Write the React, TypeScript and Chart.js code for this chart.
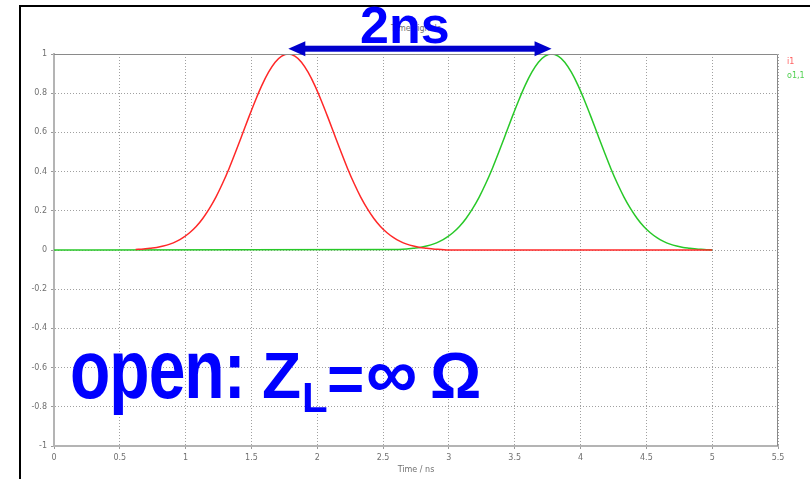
import React, { useEffect, useRef } from "react";
import { Chart, registerables } from "chart.js";

Chart.register(...registerables);

// ---- data ----
const redX = [0.62, 0.68, 0.73, 0.78, 0.83, 0.88, 0.93, 0.98, 1.03, 1.08, 1.13, 1.18, 1.23, 1.28, 1.33, 1.38, 1.43, 1.48, 1.53, 1.58, 1.63, 1.68, 1.73, 1.78,
  1.83, 1.88, 1.93, 1.98, 2.03, 2.08, 2.13, 2.18, 2.23, 2.28, 2.33, 2.38, 2.43, 2.48, 2.53, 2.58, 2.63, 2.68, 2.73, 2.78, 2.83, 2.88, 2.94, 3.0, 5.0];
const redY = [0.003, 0.005, 0.009, 0.013, 0.02, 0.03, 0.044, 0.063, 0.088, 0.12, 0.161, 0.211, 0.27, 0.339, 0.416, 0.501, 0.589, 0.678, 0.763, 0.841, 0.907, 0.958, 0.989, 1.0,
  0.989, 0.958, 0.907, 0.841, 0.763, 0.678, 0.589, 0.501, 0.416, 0.339, 0.27, 0.211, 0.161, 0.12, 0.088, 0.063, 0.044, 0.03, 0.02, 0.013, 0.009, 0.005, 0.003, 0, 0];

const greenX = [0, 2.62, 2.68, 2.73, 2.78, 2.83, 2.88, 2.93, 2.98, 3.03, 3.08, 3.13, 3.18, 3.23, 3.28, 3.33, 3.38, 3.43, 3.48, 3.53, 3.58, 3.63, 3.68, 3.73, 3.78,
  3.83, 3.88, 3.93, 3.98, 4.03, 4.08, 4.13, 4.18, 4.23, 4.28, 4.33, 4.38, 4.43, 4.48, 4.53, 4.58, 4.63, 4.68, 4.73, 4.78, 4.83, 4.88, 4.94, 5.0];
const greenY = [0, 0.003, 0.005, 0.009, 0.013, 0.02, 0.03, 0.044, 0.063, 0.088, 0.12, 0.161, 0.211, 0.27, 0.339, 0.416, 0.501, 0.589, 0.678, 0.763, 0.841, 0.907, 0.958, 0.989, 1.0,
  0.989, 0.958, 0.907, 0.841, 0.763, 0.678, 0.589, 0.501, 0.416, 0.339, 0.27, 0.211, 0.161, 0.12, 0.088, 0.063, 0.044, 0.03, 0.02, 0.013, 0.009, 0.005, 0.003, 0];

const seriesNames = ["i1", "o1,1"];
const xTicksMin = 0, xTicksMax = 5.5, xStep = 0.5;
const yTicksMin = -1, yTicksMax = 1, yStep = 0.2;
const arrowFrom = 1.78, arrowTo = 3.78, arrowLevel = 1.027;

const FONT = "'Liberation Sans', Arial, sans-serif";
const SMALL = "'DejaVu Sans', Verdana, sans-serif";

const fmt = (v: any) => String(Math.round(Number(v) * 100) / 100);

const overlayPlugin = {
  id: "overlay",
  afterDraw(chart: any) {
    const { ctx, chartArea, scales } = chart;
    ctx.save();
    ctx.strokeStyle = "#8a8a8a";
    ctx.lineWidth = 1;
    ctx.beginPath();
    ctx.moveTo(chartArea.left, chartArea.top + 0.5);
    ctx.lineTo(chartArea.right - 0.5, chartArea.top + 0.5);
    ctx.lineTo(chartArea.right - 0.5, chartArea.bottom);
    ctx.stroke();
    const x1 = scales.x.getPixelForValue(arrowFrom);
    const x2 = scales.x.getPixelForValue(arrowTo);
    const y = scales.y.getPixelForValue(arrowLevel);
    const head = 17, hh = 7.5, shaft = 3;
    ctx.fillStyle = "#0000cc";
    ctx.fillRect(x1 + head - 1, y - shaft, x2 - x1 - 2 * head + 2, shaft * 2);
    ctx.beginPath();
    ctx.moveTo(x1, y);
    ctx.lineTo(x1 + head, y - hh);
    ctx.lineTo(x1 + head, y + hh);
    ctx.closePath();
    ctx.fill();
    ctx.beginPath();
    ctx.moveTo(x2, y);
    ctx.lineTo(x2 - head, y - hh);
    ctx.lineTo(x2 - head, y + hh);
    ctx.closePath();
    ctx.fill();
    ctx.restore();
  },
};

function ChartView() {
  const ref = useRef<HTMLCanvasElement>(null);
  useEffect(() => {
    if (!ref.current) return;
    const mk = (xs: number[], ys: number[]) => xs.map((x, i) => ({ x, y: ys[i] }));
    const axisCommon = {
      grid: {
        color: "#a0a0a0",
        lineWidth: 1,
        tickLength: 3,
        tickColor: "#9a9a9a",
        tickWidth: 1,
      },
      border: { color: "#b4b4b4", width: 2, dash: [1, 2] },
      ticks: { color: "#707070", font: { family: SMALL, size: 8 }, padding: 4, callback: fmt },
    };
    const chart = new Chart(ref.current, {
      type: "line",
      data: {
        datasets: [
          {
            label: seriesNames[0],
            data: mk(redX, redY),
            borderColor: "rgb(255,40,40)",
            borderWidth: 1.5,
            pointRadius: 0,
            cubicInterpolationMode: "monotone",
          },
          {
            label: seriesNames[1],
            data: mk(greenX, greenY),
            borderColor: "rgb(40,200,40)",
            borderWidth: 1.5,
            pointRadius: 0,
            cubicInterpolationMode: "monotone",
          },
        ],
      },
      options: {
        responsive: false,
        animation: false,
        layout: { padding: { top: 54, right: 32, left: 0, bottom: 0 } },
        plugins: { legend: { display: false }, tooltip: { enabled: false } },
        scales: {
          x: {
            type: "linear",
            min: xTicksMin,
            max: xTicksMax,
            ...axisCommon,
            ticks: { ...axisCommon.ticks, stepSize: xStep, maxRotation: 0 },
            title: {
              display: true,
              text: "Time / ns",
              color: "#707070",
              font: { family: SMALL, size: 8 },
              padding: { top: 0, bottom: 4 },
            },
            afterFit: (s: any) => {
              s.height = 33;
            },
          },
          y: {
            type: "linear",
            min: yTicksMin,
            max: yTicksMax,
            ...axisCommon,
            ticks: { ...axisCommon.ticks, stepSize: yStep },
            afterFit: (s: any) => {
              s.width = 54;
            },
          },
        },
      },
      plugins: [overlayPlugin],
    } as any);
    return () => chart.destroy();
  }, []);
  return <canvas ref={ref} width={810} height={479} style={{ position: "absolute", left: 0, top: 0 }} />;
}

const abs = (left: number, baseline: number, size: number, extra: any = {}) => ({
  position: "absolute" as const,
  left,
  top: baseline - 0.8465 * size,
  fontSize: size,
  lineHeight: `${size}px`,
  fontFamily: FONT,
  fontWeight: "bold" as const,
  color: "#0000ff",
  whiteSpace: "nowrap" as const,
  ...extra,
});

export default function App() {
  return (
    <div style={{ position: "fixed", left: 0, top: 0, width: 810, height: 479, background: "#fff", overflow: "hidden" }}>
      <div style={{ position: "absolute", left: 19, top: 5, width: 820, height: 500, borderTop: "2px solid #000", borderLeft: "2px solid #000" }} />
      <div style={{ position: "absolute", left: 316, width: 200, top: 24, textAlign: "center", fontFamily: SMALL, fontSize: 8, color: "#707070" }}>
        Time signals
      </div>
      <ChartView />
      <div style={{ position: "absolute", left: 787, top: 57, fontFamily: SMALL, fontSize: 8, color: "#ff6060" }}>{seriesNames[0]}</div>
      <div style={{ position: "absolute", left: 787, top: 71, fontFamily: SMALL, fontSize: 8, color: "#50d050" }}>{seriesNames[1]}</div>
      <div style={abs(360, 43, 52)}>2ns</div>
      <div style={abs(70, 398, 66, { letterSpacing: "-1px", transform: "scaleY(1.25)", transformOrigin: `0px ${0.8465 * 66}px` })}>open:</div>
      <div style={abs(262, 398, 64)}>Z</div>
      <div style={abs(302, 413, 42)}>L</div>
      <div style={abs(327, 401, 64)}>=</div>
      <div style={abs(366, 398, 72)}>∞</div>
      <div style={abs(430, 398, 64)}>Ω</div>
    </div>
  );
}
